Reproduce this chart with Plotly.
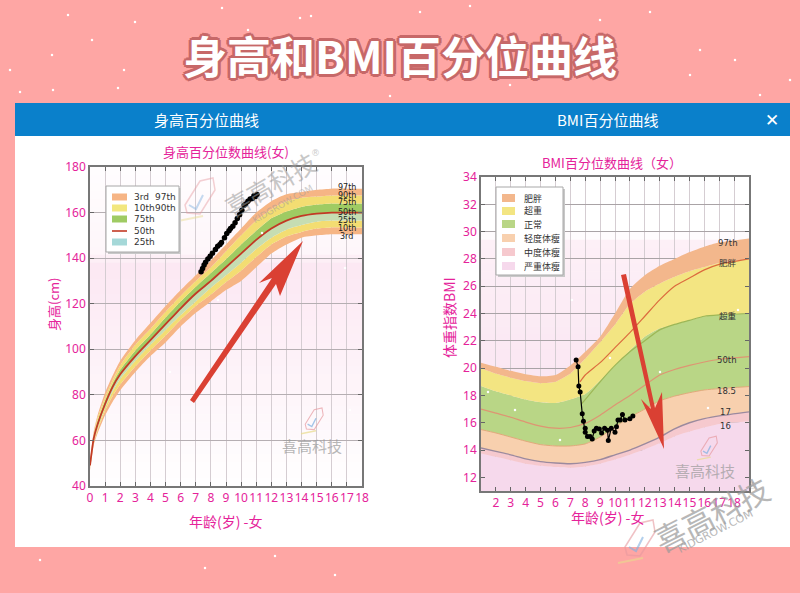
import plotly.graph_objects as go

W, H = 800, 593
MAGENTA = "#E5229A"
CJK = "Noto Sans CJK SC"

# ---- height chart data ----
h_age = [0, .25, .5, 1, 1.5, 2, 3, 4, 5, 6, 7, 8, 9, 10, 11, 12, 13, 14, 15, 16, 17, 18]
h_p97 = [51, 64, 71, 81, 88.5, 95, 104, 111.5, 119, 126, 132.5, 139, 146, 153, 160, 165, 168, 169, 170, 170.5, 170.5, 170.5]
h_p90 = [50, 63, 70, 79, 86.5, 93, 102, 109, 116.5, 123.5, 130, 136, 143, 150, 156.5, 161.5, 165, 166.5, 167, 167.5, 167.5, 167.5]
h_p75 = [49.5, 62, 68.5, 77.5, 85, 91, 99.5, 106.5, 114, 121, 127.5, 133.5, 139.5, 146, 152, 157.5, 160.5, 162.5, 163.5, 164, 164, 164]
h_p50 = [49, 61, 67, 76, 83.5, 89, 97, 104, 111, 118, 124.5, 130, 136, 142, 148, 153, 156.5, 158.5, 159.5, 160, 160, 160]
h_p25 = [48.5, 60, 65.5, 74.5, 81.5, 87, 95, 102, 108.5, 115, 121, 127, 132.5, 138, 144, 149, 152.5, 154.5, 156, 156.5, 156.5, 156.5]
h_p10 = [48, 59, 64.5, 73, 79.5, 84.5, 92.5, 99.5, 106, 113, 119, 124, 129.5, 134.5, 140.5, 146, 149.5, 151.5, 153, 153.5, 153.5, 153.5]
h_p3 = [47, 58, 63, 71, 77, 82, 90, 97, 103, 110, 116, 121, 126, 130, 136, 142, 146, 149, 150, 150.5, 150.5, 150.5]
child_h_age = [7.35, 7.45, 7.55, 7.65, 7.8, 7.95, 8.1, 8.3, 8.45, 8.6, 8.7, 8.9, 9.05, 9.2, 9.3, 9.45, 9.6, 9.75, 9.9, 10.05, 10.2, 10.3, 10.45, 10.6, 10.75, 10.85, 10.95, 11.05]
child_h = [134, 135.5, 137, 138.2, 139.6, 140.8, 142.2, 143.8, 145.2, 146, 146.9, 149, 150.8, 152, 153, 154, 155.5, 157.4, 159, 161, 163.2, 163.8, 165, 166, 166.2, 167.4, 167, 167.9]
h_yticks = [40, 60, 80, 100, 120, 140, 160, 180]
h_xticks = list(range(0, 19))
h_end_labels = ["97th", "90th", "75th", "50th", "25th", "10th", "3rd"]
h_end_y = [170.8, 167.3, 164.2, 160.2, 156.7, 153.2, 149.7]

# ---- BMI chart data ----
b_age = [1, 2, 3, 4, 5, 6, 7, 8, 9, 10, 11, 12, 13, 14, 15, 16, 17, 19]
b_p97 = [20.4, 20.1, 19.8, 19.55, 19.4, 19.5, 20.2, 21.2, 22.3, 24, 25.8, 26.8, 27.5, 28, 28.5, 28.9, 29.2, 29.5]
b_fat = [20, 19.6, 19.3, 19.05, 18.9, 19, 19.6, 20.7, 21.9, 23.2, 24.7, 25.6, 26.2, 26.7, 27.1, 27.4, 27.7, 28]
b_over = [18.7, 18.3, 18, 17.7, 17.5, 17.45, 17.7, 18.1, 19.1, 20.2, 21.3, 22.3, 22.9, 23.2, 23.5, 23.8, 23.9, 24]
b_p50 = [17, 16.7, 16.4, 16.05, 15.75, 15.6, 15.65, 15.95, 16.55, 17.3, 18, 18.75, 19.5, 19.9, 20.2, 20.45, 20.65, 20.85]
b_185 = [15.5, 15.25, 14.95, 14.65, 14.4, 14.3, 14.3, 14.45, 14.95, 15.7, 16.4, 17, 17.6, 17.95, 18.2, 18.4, 18.5, 18.65]
b_17 = [14.15, 13.9, 13.65, 13.35, 13.15, 13.05, 13, 13.1, 13.3, 13.65, 14, 14.45, 14.95, 15.55, 16, 16.3, 16.5, 16.8]
b_16 = [13.75, 13.5, 13.25, 13, 12.85, 12.75, 12.7, 12.8, 13, 13.3, 13.65, 14.05, 14.5, 15, 15.35, 15.65, 15.9, 16.1]
fat_line_age = [7.65, 8, 9, 10, 11, 12, 13, 14, 15, 16, 17, 19]
fat_line = [19, 19.5, 20.4, 21.5, 22.6, 23.8, 25, 26, 26.6, 27.2, 27.6, 28]
over_line_age = [7.77, 9, 10, 11, 12, 13, 14, 15, 16, 17, 19]
over_line = [17.4, 19, 20.2, 21.2, 22, 22.8, 23.2, 23.5, 23.8, 23.9, 24]
child_b_age = [7.39, 7.52, 7.57, 7.66, 7.8, 7.88, 8.0, 8.0, 8.15, 8.33, 8.47, 8.6, 8.75, 8.95, 9.1, 9.3, 9.5, 9.55, 9.75, 10.0, 10.1, 10.2, 10.35, 10.5, 10.67, 11.0, 11.2]
child_b = [20.6, 20.1, 18.7, 18.25, 16.65, 16.1, 15.6, 15.3, 15.0, 15.0, 14.8, 15.4, 15.6, 15.55, 15.25, 15.6, 15.45, 14.7, 15.6, 15.3, 15.7, 16.2, 16.2, 16.6, 16.2, 16.3, 16.5]
b_yticks = [12, 14, 16, 18, 20, 22, 24, 26, 28, 30, 32, 34]
b_xticks = list(range(2, 19))
b_end_labels = ["97th", "肥胖", "超重", "50th", "18.5", "17", "16"]
b_end_x = [17.6, 17.6, 17.6, 17.5, 17.5, 17.4, 17.4]
b_end_y = [29.2, 27.7, 23.8, 20.6, 18.3, 16.8, 15.75]

# legend entries
h_legend_labels = ["3rd", "10th", "75th", "50th", "25th"]
h_legend_labels2 = ["97th", "90th", "", "", ""]
b_legend_labels = ["肥胖", "超重", "正常", "轻度体瘦", "中度体瘦", "严重体瘦"]

# decorative specks on the page, in pixels
speck_x = [68, 311, 52, 53, 124, 222, 248, 300, 420, 470, 510, 650, 700, 735, 760, 20, 10, 92, 118, 135, 390, 545, 600, 690, 790, 40, 205, 335, 275, 262, 345, 560, 610, 738, 708, 660, 515, 488, 572, 350, 218, 170]
speck_y = [15, 16, 55, 90, 70, 8, 30, 18, 12, 6, 85, 12, 50, 60, 95, 92, 70, 40, 88, 22, 96, 34, 20, 75, 80, 560, 568, 575, 556, 233, 268, 440, 358, 310, 408, 372, 410, 392, 300, 410, 300, 372]

fig = go.Figure()

def dom_x(a, b):
    return [a / W, b / W]

def dom_y(top, bot):
    return [1 - bot / H, 1 - top / H]

def px(x, y):
    return x / W, 1 - y / H

def path(pts, close=True):
    d = ""
    for i, (x, y) in enumerate(pts):
        u, v = px(x, y)
        d += ("M" if i == 0 else "L") + f"{u:.5f},{v:.5f} "
    return d + ("Z" if close else "")

shapes = []
def rect(x0, y0, x1, y1, color, layer="below", line=None):
    u0, v0 = px(x0, y0)
    u1, v1 = px(x1, y1)
    shapes.append(dict(type="rect", xref="paper", yref="paper", x0=u0, x1=u1, y0=v0, y1=v1,
                       fillcolor=color, layer=layer, line=line or dict(width=0)))
rect(15, 103, 790, 547, "#FFFFFF")
rect(15, 103, 790, 136, "#0A80CB")

def mix(a, b, t):
    return "#" + "".join(f"{round(a[i] + (b[i] - a[i]) * t):02X}" for i in range(3))

def gradient(xaxis, yaxis, stops, n=40):
    for i in range(n):
        t = i / n
        for (t0, c0), (t1, c1) in zip(stops, stops[1:]):
            if t0 <= t <= t1:
                col = mix(c0, c1, (t - t0) / (t1 - t0) if t1 > t0 else 0)
                break
        shapes.append(dict(type="rect", xref=f"{xaxis} domain", yref=f"{yaxis} domain",
                           x0=0, x1=1, y0=1 - (i + 1) / n - 0.002, y1=1 - i / n,
                           fillcolor=col, line_width=0, layer="below"))

gradient("x", "y", [(0, (255, 253, 254)), (.25, (254, 246, 250)), (.3, (252, 232, 243)), (1, (255, 255, 255))])
gradient("x2", "y2", [(0, (255, 255, 255)), (.17, (255, 255, 255)), (.19, (253, 240, 247)), (1, (248, 223, 238))])

def band(xa, ya, x, y, fill, fillmode="tonexty"):
    fig.add_trace(go.Scatter(x=x, y=y, xaxis=xa, yaxis=ya, mode="lines", line=dict(width=0, shape="spline", smoothing=.6),
                             fill=fillmode, fillcolor=fill, showlegend=False, hoverinfo="skip"))

ORANGE, YEL, GREEN, PALE, RED = "#F6B585", "#F3DD72", "#9FCB63", "#C6DDB2", "#C23A25"
fig.add_trace(go.Scatter(x=h_age, y=h_p3, xaxis="x", yaxis="y", mode="lines", line=dict(width=0, shape="spline", smoothing=.6), showlegend=False, hoverinfo="skip"))
band("x", "y", h_age, h_p10, ORANGE)
band("x", "y", h_age, h_p25, YEL)
band("x", "y", h_age, h_p50, PALE)
band("x", "y", h_age, h_p75, GREEN)
band("x", "y", h_age, h_p90, YEL)
band("x", "y", h_age, h_p97, ORANGE)
fig.add_trace(go.Scatter(x=h_age, y=h_p50, xaxis="x", yaxis="y", mode="lines", showlegend=False,
                         line=dict(color=RED, width=1.8, shape="spline", smoothing=.6)))
fig.add_trace(go.Scatter(x=child_h_age, y=child_h, xaxis="x", yaxis="y", mode="lines+markers", showlegend=False,
                         line=dict(color="#000", width=1.5), marker=dict(color="#000", size=5.5)))

B_COLS = ["#F3B78C", "#F3E582", "#B9D686", "#F8D0AE", "#F6C9CE", "#F6D9EC"]
band("x2", "y2", b_age, b_16, B_COLS[5], "tozeroy")
band("x2", "y2", b_age, b_17, B_COLS[4])
band("x2", "y2", b_age, b_185, B_COLS[3])
band("x2", "y2", b_age, b_over, B_COLS[2])
band("x2", "y2", b_age, b_fat, B_COLS[1])
band("x2", "y2", b_age, b_p97, B_COLS[0])
for x, y, c, w in [(b_age, b_17, "#9C8A9E", 1.4), (b_age, b_185, "#E2A97A", 1), (b_age, b_p50, "#DE9573", 1.2),
                   (over_line_age, over_line, "#9DB756", 1.2), (fat_line_age, fat_line, "#DC6B3E", 1.2)]:
    fig.add_trace(go.Scatter(x=x, y=y, xaxis="x2", yaxis="y2", mode="lines", showlegend=False, hoverinfo="skip",
                             line=dict(color=c, width=w, shape="spline", smoothing=.6)))
fig.add_trace(go.Scatter(x=child_b_age, y=child_b, xaxis="x2", yaxis="y2", mode="lines+markers", showlegend=False,
                         line=dict(color="#000", width=1.2), marker=dict(color="#000", size=5)))

# arrows
ARROW = "#DA4033"
shapes += [
    dict(type="path", xref="paper", yref="paper", line_width=0, fillcolor=ARROW,
         path=path([(190, 400), (194, 403), (276, 284), (280, 296), (303, 241), (259, 283), (272, 278)])),
    dict(type="path", xref="paper", yref="paper", line_width=0, fillcolor=ARROW,
         path=path([(621, 275), (626, 274), (655, 408), (662, 392), (664, 449), (641, 399), (651, 409)])),
]

# watermark logos
def logo(cx, cy, s, op=.45):
    hexa = [(cx - 13 * s, cy + 2 * s), (cx + 2 * s, cy - 22 * s), (cx + 15 * s, cy - 25 * s), (cx + 17 * s, cy - 13 * s), (cx + 2 * s, cy + 11 * s), (cx - 11 * s, cy + 10 * s)]
    shapes.append(dict(type="path", xref="paper", yref="paper", path=path(hexa), opacity=op,
                       line=dict(color="#E79AA0", width=1.5 * max(s, .7)), fillcolor="rgba(0,0,0,0)"))
    shapes.append(dict(type="path", xref="paper", yref="paper", opacity=op, line=dict(color="#7FB0E0", width=2 * max(s, .7)),
                       path=path([(cx - 9 * s, cy + 2 * s), (cx - 2 * s, cy + 6 * s), (cx + 5 * s, cy - 8 * s)], False)))
    shapes.append(dict(type="path", xref="paper", yref="paper", opacity=op, line=dict(color="#E9DC8C", width=2 * max(s, .7)),
                       path=path([(cx - 20 * s, cy + 18 * s), (cx + 5 * s, cy + 13 * s)], False)))

logo(198, 203, 1.0)
logo(313, 423, .6, .7)
logo(708, 450, .55, .7)
logo(638, 545, 1.0, .6)

ann = []
def text(x, y, t, size, color=MAGENTA, angle=0, family=CJK, op=1, shadow=None, anchor="center"):
    u, v = px(x, y)
    f = dict(size=size, color=color, family=family)
    if shadow:
        f["shadow"] = shadow
    ann.append(dict(xref="paper", yref="paper", x=u, y=v, text=t, showarrow=False, xanchor=anchor, yanchor="middle",
                    font=f, textangle=angle, opacity=op))

R = "#C76868"
title_shadow = ",".join(f"{a}px {b}px 0 {R}" for a, b in [(2, 2), (-2, 2), (2, -2), (-2, -2), (3, 0), (-3, 0), (0, 3), (0, -3)])
text(400, 55, "<b>身高和BMI百分位曲线</b>", 44, "#FFFFFF", shadow=title_shadow)
text(206, 119, "身高百分位曲线", 15, "#FFFFFF")
text(607, 119, "BMI百分位曲线", 15, "#FFFFFF")
text(772, 120, "<b>✕</b>", 17, "#FFFFFF", family="DejaVu Sans")
text(226, 152, "身高百分位数曲线(女)", 13)
text(226, 521, "年龄(岁) -女", 14)
text(53, 305, "身高(cm)", 13, angle=-90)
text(612, 162, "BMI百分位数曲线（女）", 13)
text(449, 318, "体重指数BMI", 14, angle=-90)
text(607, 517, "年龄(岁) -女", 14)
# watermarks
G = "#9A9A9A"
text(270, 184, "喜高科技", 25, G, -30, op=.55)
text(283, 204, "KIDGROW.COM", 9, G, -30, "DejaVu Sans", op=.5)
text(315, 153, "®", 9, G, 0, "DejaVu Sans", op=.5)
text(312, 445, "喜高科技", 15, G, op=.7)
text(705, 471, "喜高科技", 15, G, op=.7)
text(711, 513, "喜高科技", 31, G, -27, op=.7)
text(715, 531, "KIDGROW.COM", 11, G, -27, "DejaVu Sans", op=.7)
text(752, 486, "®", 9, G, 0, "DejaVu Sans", op=.5)

for t, y in zip(h_end_labels, h_end_y):
    ann.append(dict(xref="x", yref="y", x=17, y=y, text=t, showarrow=False, font=dict(size=8, color="#222", family="DejaVu Sans")))
for t, x, y in zip(b_end_labels, b_end_x, b_end_y):
    ann.append(dict(xref="x2", yref="y2", x=x, y=y, text=t, showarrow=False, font=dict(size=8.5, color="#333", family="DejaVu Sans, " + CJK)))

# hand-placed legends (paper pixels)
def legend_top(x0, y0, x1, y1):
    rect(x0 + 2, y0 + 2, x1 + 2, y1 + 2, "#C8C8C8", "above")
    rect(x0, y0, x1, y1, "#FFFFFF", "above", dict(color="#A8A8A8", width=1))

legend_top(106, 186, 179, 252)
h_swatch = [ORANGE, "#F2E77E", GREEN, None, "#A5D8D8"]
for y, c, a, b in zip([197, 208, 219, 231, 242], h_swatch, h_legend_labels, h_legend_labels2):
    if c:
        rect(112, y - 3.5, 127, y + 3.5, c, "above")
    else:
        rect(112, y - .8, 127, y + .8, RED, "above")
    text(132, y, a, 9, "#333", family="DejaVu Sans", anchor="left")
    if b:
        text(153, y, b, 9, "#333", family="DejaVu Sans", anchor="left")

legend_top(496, 187, 563, 275)
for y, c, a in zip([198, 211, 224, 238, 252, 266], B_COLS, b_legend_labels):
    rect(502, y - 4, 515, y + 4, c, "above")
    text(522, y, a, 9, "#333", anchor="left")

# specks overlay
fig.add_trace(go.Scatter(x=speck_x, y=speck_y, xaxis="x3", yaxis="y3", mode="markers", showlegend=False, hoverinfo="skip",
                         marker=dict(color="#FFFFFF", size=2.5, line_width=0)))

def axis(domain, rng, vals, anchor, grid="#D5CDD2"):
    return dict(domain=domain, range=rng, anchor=anchor, tickvals=vals, ticktext=[str(v) for v in vals], tickangle=0,
                ticks="inside", ticklen=4, tickcolor="#666", tickwidth=1, mirror="ticks", showline=True, linecolor="#777", linewidth=1.5,
                showgrid=True, gridcolor=grid, gridwidth=1.3, zeroline=False,
                tickfont=dict(size=12, color=MAGENTA, family="Noto Sans"))

fig.update_layout(
    width=W, height=H, autosize=False, margin=dict(l=0, r=0, t=0, b=0, autoexpand=False), paper_bgcolor="#FEA6A4", plot_bgcolor="rgba(0,0,0,0)",
    showlegend=False, shapes=shapes, annotations=ann, hovermode=False,
    xaxis=axis(dom_x(90, 362), [0, 18], h_xticks, "y"),
    yaxis=axis(dom_y(167, 486), [40, 180], h_yticks, "x", "#B5AEB2"),
    xaxis2=axis(dom_x(481, 749), [1, 19], b_xticks, "y2"),
    yaxis2=axis(dom_y(177, 491), [11, 34], b_yticks, "x2", "#A9A3A6"),
    xaxis3=dict(domain=[0, 1], range=[0, W], visible=False, anchor="y3", fixedrange=True),
    yaxis3=dict(domain=[0, 1], range=[H, 0], visible=False, anchor="x3", fixedrange=True),
)

fig.write_html("out.html", config=dict(displayModeBar=False),
               post_script="document.body.style.margin='0';document.body.style.overflow='hidden';")
